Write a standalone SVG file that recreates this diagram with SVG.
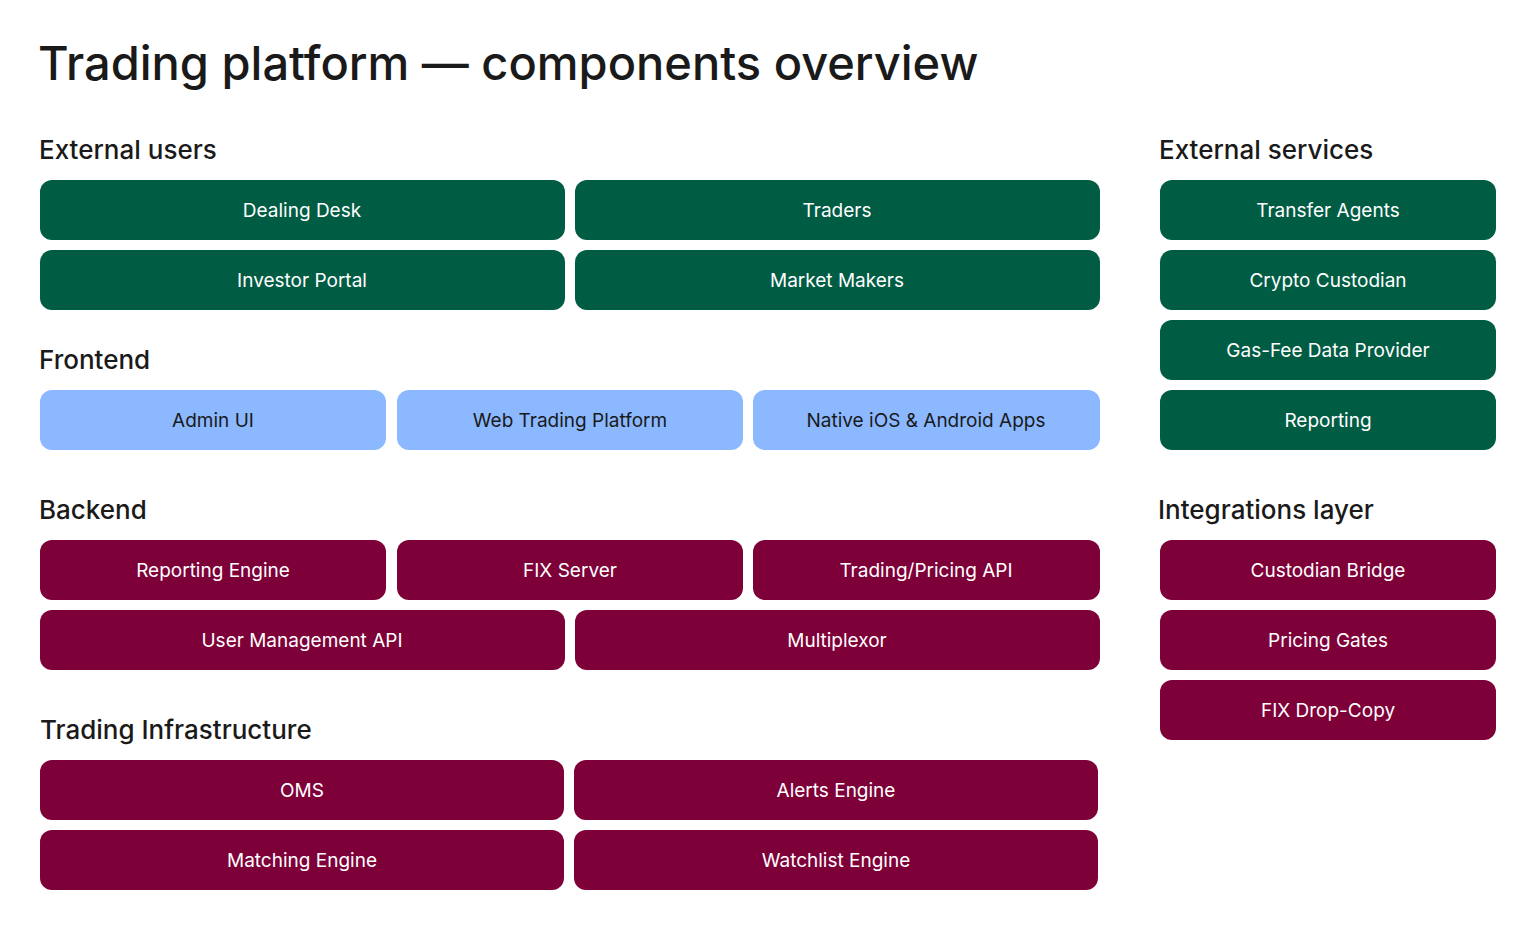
<svg xmlns="http://www.w3.org/2000/svg" width="1536" height="930" viewBox="0 0 1536 930">
<style>
.t{font-family:Inter,"Liberation Sans",sans-serif;fill:#1a1a1a}
.h{font-size:26px;font-weight:500}
.l{font-family:Inter,"Liberation Sans",sans-serif;font-size:19px;text-anchor:middle;dominant-baseline:central;fill:#fff}
.lb{fill:#1a1a1a}
.g{fill:#005C43}.m{fill:#7E0038}.b{fill:#8BB8FF}
</style>
<rect width="1536" height="930" fill="#fff"/>
<text class="t" x="38" y="80" font-size="47" font-weight="500">Trading platform — components overview</text>
<text class="t h" x="39" y="159">External users</text>
<text class="t h" x="39" y="369">Frontend</text>
<text class="t h" x="39" y="519">Backend</text>
<text class="t h" x="40" y="739">Trading Infrastructure</text>
<text class="t h" x="1159" y="159">External services</text>
<text class="t h" x="1158" y="519">Integrations layer</text>
<g id="dealing-desk"><rect class="g" x="40" y="180" width="525" height="60" rx="12"/><text class="l" x="302" y="210">Dealing Desk</text></g>
<g id="traders"><rect class="g" x="575" y="180" width="525" height="60" rx="12"/><text class="l" x="837" y="210">Traders</text></g>
<g id="investor-portal"><rect class="g" x="40" y="250" width="525" height="60" rx="12"/><text class="l" x="302" y="280">Investor Portal</text></g>
<g id="market-makers"><rect class="g" x="575" y="250" width="525" height="60" rx="12"/><text class="l" x="837" y="280">Market Makers</text></g>
<g id="admin-ui"><rect class="b" x="40" y="390" width="346" height="60" rx="12"/><text class="l lb" x="213" y="420">Admin UI</text></g>
<g id="web-trading"><rect class="b" x="397" y="390" width="346" height="60" rx="12"/><text class="l lb" x="570" y="420">Web Trading Platform</text></g>
<g id="native-apps"><rect class="b" x="753" y="390" width="347" height="60" rx="12"/><text class="l lb" x="926" y="420">Native iOS &amp; Android Apps</text></g>
<g id="reporting-engine"><rect class="m" x="40" y="540" width="346" height="60" rx="12"/><text class="l" x="213" y="570">Reporting Engine</text></g>
<g id="fix-server"><rect class="m" x="397" y="540" width="346" height="60" rx="12"/><text class="l" x="570" y="570">FIX Server</text></g>
<g id="trading-pricing-api"><rect class="m" x="753" y="540" width="347" height="60" rx="12"/><text class="l" x="926" y="570">Trading/Pricing API</text></g>
<g id="user-mgmt-api"><rect class="m" x="40" y="610" width="525" height="60" rx="12"/><text class="l" x="302" y="640">User Management API</text></g>
<g id="multiplexor"><rect class="m" x="575" y="610" width="525" height="60" rx="12"/><text class="l" x="837" y="640">Multiplexor</text></g>
<g id="oms"><rect class="m" x="40" y="760" width="524" height="60" rx="12"/><text class="l" x="302" y="790">OMS</text></g>
<g id="alerts-engine"><rect class="m" x="574" y="760" width="524" height="60" rx="12"/><text class="l" x="836" y="790">Alerts Engine</text></g>
<g id="matching-engine"><rect class="m" x="40" y="830" width="524" height="60" rx="12"/><text class="l" x="302" y="860">Matching Engine</text></g>
<g id="watchlist-engine"><rect class="m" x="574" y="830" width="524" height="60" rx="12"/><text class="l" x="836" y="860">Watchlist Engine</text></g>
<g id="transfer-agents"><rect class="g" x="1160" y="180" width="336" height="60" rx="12"/><text class="l" x="1328" y="210">Transfer Agents</text></g>
<g id="crypto-custodian"><rect class="g" x="1160" y="250" width="336" height="60" rx="12"/><text class="l" x="1328" y="280">Crypto Custodian</text></g>
<g id="gas-fee"><rect class="g" x="1160" y="320" width="336" height="60" rx="12"/><text class="l" x="1328" y="350">Gas-Fee Data Provider</text></g>
<g id="reporting"><rect class="g" x="1160" y="390" width="336" height="60" rx="12"/><text class="l" x="1328" y="420">Reporting</text></g>
<g id="custodian-bridge"><rect class="m" x="1160" y="540" width="336" height="60" rx="12"/><text class="l" x="1328" y="570">Custodian Bridge</text></g>
<g id="pricing-gates"><rect class="m" x="1160" y="610" width="336" height="60" rx="12"/><text class="l" x="1328" y="640">Pricing Gates</text></g>
<g id="fix-drop-copy"><rect class="m" x="1160" y="680" width="336" height="60" rx="12"/><text class="l" x="1328" y="710">FIX Drop-Copy</text></g>
<g id="connectors"/>
</svg>
